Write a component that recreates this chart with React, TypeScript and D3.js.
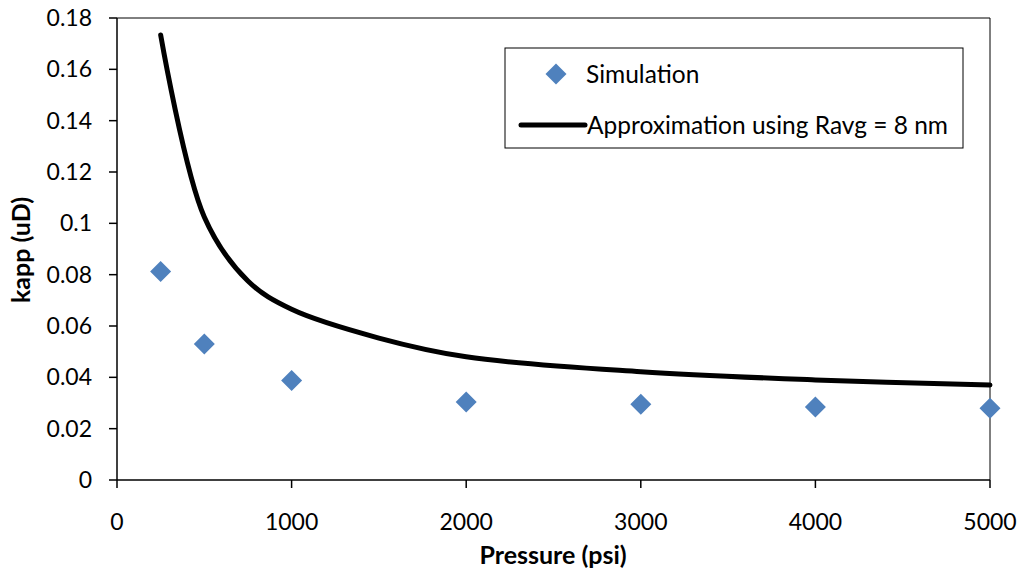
import React from "react";
import * as d3 from "d3";

const simPressure = [250, 500, 1000, 2000, 3000, 4000, 5000];
const simKapp = [0.0812, 0.053, 0.0388, 0.0304, 0.0295, 0.0284, 0.028];

const approxPressure = [250, 500, 750, 1000, 1500, 2000, 3000, 4000, 5000];
const approxKapp = [0.1734, 0.1025, 0.0775, 0.0665, 0.0553, 0.048, 0.0422, 0.039, 0.037];

const xTicks = [0, 1000, 2000, 3000, 4000, 5000];
const yTicks = [0, 0.02, 0.04, 0.06, 0.08, 0.1, 0.12, 0.14, 0.16, 0.18];

const seriesNames = ["Simulation", "Approximation using Ravg = 8 nm"];

const W = 1023;
const H = 575;
const L = 117;
const R = 990;
const T = 18;
const B = 480;
const FONT = "Lato, 'Open Sans', sans-serif";

export default function App() {
  const x = d3.scaleLinear().domain([0, 5000]).range([L, R]);
  const y = d3.scaleLinear().domain([0, 0.18]).range([B, T]);
  const line = d3
    .line<number>()
    .x((_, i) => x(approxPressure[i]))
    .y((d) => y(d))
    .curve(d3.curveCatmullRom.alpha(0.5));
  const diamondPath = "M0,-10.5L10.5,0L0,10.5L-10.5,0Z";

  return (
    <svg
      width={W}
      height={H}
      style={{ position: "absolute", left: 0, top: 0, background: "#fff" }}
      fontFamily={FONT}
    >
      <rect x={0} y={0} width={W} height={H} fill="#fff" />
      <line x1={L} y1={T} x2={R} y2={T} stroke="#000" strokeWidth={1} />
      <line x1={R} y1={T} x2={R} y2={B} stroke="#000" strokeWidth={1} />
      <line x1={L} y1={T} x2={L} y2={B} stroke="#000" strokeWidth={1.5} />
      <line x1={L} y1={B} x2={R} y2={B} stroke="#000" strokeWidth={1.5} />
      {yTicks.map((t) => (
        <g key={"y" + t}>
          <line x1={L - 8} x2={L} y1={y(t)} y2={y(t)} stroke="#000" strokeWidth={1.5} />
          <text x={92} y={y(t)} dy="0.35em" textAnchor="end" fontSize={23} fill="#000">
            {String(t)}
          </text>
        </g>
      ))}
      {xTicks.map((t) => (
        <g key={"x" + t}>
          <line x1={x(t)} x2={x(t)} y1={B} y2={B + 8} stroke="#000" strokeWidth={1.5} />
          <text x={x(t)} y={522} dy="0.35em" textAnchor="middle" fontSize={23} fill="#000">
            {String(t)}
          </text>
        </g>
      ))}
      <text x={553} y={555} dy="0.35em" textAnchor="middle" fontSize={25} fontWeight="bold">
        Pressure (psi)
      </text>
      <text
        transform={`translate(21,${250}) rotate(-90)`}
        dy="0.35em"
        textAnchor="middle"
        fontSize={25}
        fontWeight="bold"
      >
        kapp (uD)
      </text>
      <path
        d={line(approxKapp) || ""}
        fill="none"
        stroke="#000"
        strokeWidth={5}
        strokeLinecap="round"
        strokeLinejoin="round"
      />
      {simKapp.map((v, i) => (
        <path
          key={"p" + i}
          d={diamondPath}
          transform={`translate(${x(simPressure[i])},${y(v)})`}
          fill="#4F81BD"
        />
      ))}
      <rect x={505} y={48} width={458} height={100} fill="#fff" stroke="#000" strokeWidth={1} />
      <path d={diamondPath} transform="translate(556,74)" fill="#4F81BD" />
      <text x={586} y={74} dy="0.35em" fontSize={24.5}>
        {seriesNames[0]}
      </text>
      <line x1={521} x2={585} y1={125} y2={125} stroke="#000" strokeWidth={5} strokeLinecap="round" />
      <text x={587} y={125} dy="0.35em" fontSize={24.5}>
        {seriesNames[1]}
      </text>
    </svg>
  );
}
